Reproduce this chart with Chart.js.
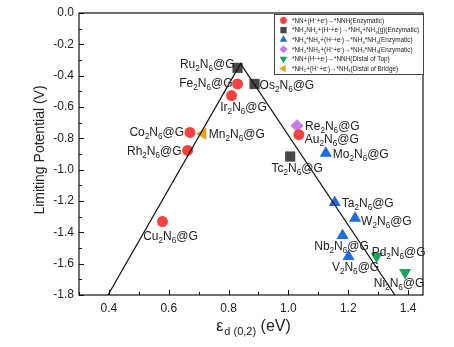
<!DOCTYPE html>
<html>
<head>
<meta charset="utf-8">
<script src="https://cdn.jsdelivr.net/npm/chart.js@4.4.1/dist/chart.umd.min.js"></script>
<style>
html,body{margin:0;padding:0;background:#fff;}
#wrap{width:454px;height:347px;position:relative;}
</style>
</head>
<body>
<div id="wrap"><canvas id="c" width="454" height="347"></canvas></div>
<script>
// ---------------- DATA ----------------
const xTicks = [0.4, 0.6, 0.8, 1.0, 1.2, 1.4];
const xMinor = [0.3, 0.5, 0.7, 0.9, 1.1, 1.3];
const yTicks = [0.0, -0.2, -0.4, -0.6, -0.8, -1.0, -1.2, -1.4, -1.6, -1.8];
const yMinor = [-0.1, -0.3, -0.5, -0.7, -0.9, -1.1, -1.3, -1.5, -1.7];

// *NN -> *NNH (Enzymatic)  red circles
const nnhEnzNames = ['Fe_{2}N_{6}@G','Ir_{2}N_{6}@G','Co_{2}N_{6}@G','Rh_{2}N_{6}@G','Cu_{2}N_{6}@G','Au_{2}N_{6}@G'];
const nnhEnzX = [0.830, 0.810, 0.671, 0.663, 0.579, 1.035];
const nnhEnzY = [-0.453, -0.527, -0.762, -0.877, -1.331, -0.777];

// *NH2NH2 -> *NH3+NH3(g) (Enzymatic)  dark squares
const nh2nh2Names = ['Ru_{2}N_{6}@G','Os_{2}N_{6}@G','Tc_{2}N_{6}@G'];
const nh2nh2X = [0.830, 0.887, 1.006];
const nh2nh2Y = [-0.350, -0.453, -0.916];

// *NH3*NH2 -> *NH3*NH3 (Enzymatic)  blue triangles
const nh3nh2Names = ['Mo_{2}N_{6}@G','Ta_{2}N_{6}@G','W_{2}N_{6}@G','Nb_{2}N_{6}@G','V_{2}N_{6}@G'];
const nh3nh2X = [1.125, 1.155, 1.223, 1.181, 1.201];
const nh3nh2Y = [-0.895, -1.210, -1.310, -1.420, -1.555];

// *NH2*NH2 -> *NH2*NH3 (Enzymatic)  purple diamond
const nh2nh2bNames = ['Re_{2}N_{6}@G'];
const nh2nh2bX = [1.029];
const nh2nh2bY = [-0.719];

// *NN -> *NNH (Distal of Top)  green down triangles
const nnhTopNames = ['Pd_{2}N_{6}@G','Ni_{2}N_{6}@G'];
const nnhTopX = [1.295, 1.390];
const nnhTopY = [-1.553, -1.657];

// *NH2 -> *NH3 (Distal of Bridge)  orange left triangle
const nh2BridgeNames = ['Mn_{2}N_{6}@G'];
const nh2BridgeX = [0.714];
const nh2BridgeY = [-0.770];

// volcano lines
const volcanoX = [0.397, 0.840, 1.356];
const volcanoY = [-1.800, -0.323, -1.800];

const legendLabels = [
  '*NN+(H^{+}+e^{-})\u2192*NNH(Enzymatic)',
  '*NH_{2}NH_{2}+(H^{+}+e^{-})\u2192*NH_{3}+NH_{3}(g)(Enzymatic)',
  '*NH_{3}*NH_{2}+(H^{+}+e^{-})\u2192*NH_{3}*NH_{3}(Enzymatic)',
  '*NH_{2}*NH_{2}+(H^{+}+e^{-})\u2192*NH_{2}*NH_{3}(Enzymatic)',
  '*NN+(H^{+}+e^{-})\u2192*NNH(Distal of Top)',
  '*NH_{2}+(H^{+}+e^{-})\u2192*NH_{3}(Distal of Bridge)'
];

// ---------------- STYLE ----------------
const FONT = '"Liberation Sans", Arial, sans-serif';
const labelPos = {
  'Ru_{2}N_{6}@G': [-3, -4, 'right'],
  'Fe_{2}N_{6}@G': [-5, -1, 'right'],
  'Os_{2}N_{6}@G': [5, 1, 'left'],
  'Ir_{2}N_{6}@G': [12, 11, 'center'],
  'Co_{2}N_{6}@G': [-6, -1, 'right'],
  'Mn_{2}N_{6}@G': [6, 0, 'left'],
  'Rh_{2}N_{6}@G': [-6, 0, 'right'],
  'Cu_{2}N_{6}@G': [8, 14, 'center'],
  'Re_{2}N_{6}@G': [8, 0, 'left'],
  'Au_{2}N_{6}@G': [6, 4, 'left'],
  'Tc_{2}N_{6}@G': [7, 11, 'center'],
  'Mo_{2}N_{6}@G': [7, 0, 'left'],
  'Ta_{2}N_{6}@G': [7, 0, 'left'],
  'W_{2}N_{6}@G': [6, 2, 'left'],
  'Nb_{2}N_{6}@G': [-1, 10, 'center'],
  'V_{2}N_{6}@G': [7, 10, 'center'],
  'Pd_{2}N_{6}@G': [-5, -5, 'left'],
  'Ni_{2}N_{6}@G': [-6, 10, 'center']
};

function pts(xs, ys){ return xs.map((x,i)=>({x:x, y:ys[i]})); }

const series = [
  {names:nnhEnzNames, data:pts(nnhEnzX,nnhEnzY), color:'#F7403F', style:'circle', r:5.5, rot:0},
  {names:nh2nh2Names, data:pts(nh2nh2X,nh2nh2Y), color:'#474747', style:'rect', r:7.2, rot:0},
  {names:nh3nh2Names, data:pts(nh3nh2X,nh3nh2Y), color:'#1F68E6', style:'triangle', r:7, rot:0},
  {names:nh2nh2bNames, data:pts(nh2nh2bX,nh2nh2bY), color:'#C97AE8', style:'rectRot', r:6.5, rot:0},
  {names:nnhTopNames, data:pts(nnhTopX,nnhTopY), color:'#19A65C', style:'triangle', r:7, rot:180},
  {names:nh2BridgeNames, data:pts(nh2BridgeX,nh2BridgeY), color:'#E8A114', style:'triangle', r:7, rot:270}
];

// ---------------- RICH TEXT ----------------
function parseRich(s){
  const segs=[]; let i=0; let buf='';
  while(i<s.length){
    if((s[i]==='_'||s[i]==='^') && s[i+1]==='{'){
      if(buf){segs.push({t:buf,k:'n'});buf='';}
      const end=s.indexOf('}',i);
      segs.push({t:s.slice(i+2,end),k:s[i]==='_'?'sub':'sup'});
      i=end+1;
    } else { buf+=s[i]; i++; }
  }
  if(buf) segs.push({t:buf,k:'n'});
  return segs;
}
function richWidth(ctx, segs, size){
  let w=0;
  segs.forEach(sg=>{ ctx.font=(sg.k==='n'?size:size*0.68)+'px '+FONT; w+=ctx.measureText(sg.t).width; });
  return w;
}
function drawRich(ctx, s, x, y, size, align, color){
  const segs=parseRich(s);
  const w=richWidth(ctx,segs,size);
  let cx = align==='left'?x:(align==='right'?x-w:x-w/2);
  ctx.save();
  ctx.fillStyle=color||'#222';
  ctx.textBaseline='alphabetic';
  ctx.textAlign='left';
  const base = y + size*0.36;
  segs.forEach(sg=>{
    let fs=size, dy=0;
    if(sg.k==='sub'){fs=size*0.68; dy=size*0.25;}
    if(sg.k==='sup'){fs=size*0.68; dy=-size*0.38;}
    ctx.font=fs+'px '+FONT;
    ctx.fillText(sg.t,cx,base+dy);
    cx+=ctx.measureText(sg.t).width;
  });
  ctx.restore();
}

function marker(ctx, style, x, y, r, rot, color){
  ctx.save();
  ctx.fillStyle=color;
  ctx.translate(x,y);
  ctx.rotate(rot*Math.PI/180);
  ctx.beginPath();
  if(style==='circle'){ ctx.arc(0,0,r,0,Math.PI*2); }
  else if(style==='rect'){ const s=r*Math.SQRT1_2; ctx.rect(-s,-s,2*s,2*s); }
  else if(style==='rectRot'){ ctx.moveTo(0,-r); ctx.lineTo(r,0); ctx.lineTo(0,r); ctx.lineTo(-r,0); ctx.closePath(); }
  else if(style==='triangle'){ for(let k=0;k<3;k++){const a=k*2*Math.PI/3; const px=Math.sin(a)*r, py=-Math.cos(a)*r; if(k===0)ctx.moveTo(px,py); else ctx.lineTo(px,py);} ctx.closePath(); }
  ctx.fill();
  ctx.restore();
}

const decor = {
  id:'decor',
  afterDatasetsDraw(chart){
    const ctx=chart.ctx, ca=chart.chartArea, xs=chart.scales.x, ys=chart.scales.y;
    ctx.save();
    // frame
    ctx.strokeStyle='#111'; ctx.lineWidth=1.2;
    ctx.strokeRect(ca.left, ca.top, ca.right-ca.left, ca.bottom-ca.top);
    // ticks (inward)
    ctx.lineWidth=1;
    ctx.beginPath();
    xTicks.forEach(v=>{const p=Math.round(xs.getPixelForValue(v))+0.5; ctx.moveTo(p,ca.bottom); ctx.lineTo(p,ca.bottom-5);});
    xMinor.forEach(v=>{const p=Math.round(xs.getPixelForValue(v))+0.5; ctx.moveTo(p,ca.bottom); ctx.lineTo(p,ca.bottom-3);});
    yTicks.forEach(v=>{const p=Math.round(ys.getPixelForValue(v))+0.5; ctx.moveTo(ca.left,p); ctx.lineTo(ca.left+5,p);});
    yMinor.forEach(v=>{const p=Math.round(ys.getPixelForValue(v))+0.5; ctx.moveTo(ca.left,p); ctx.lineTo(ca.left+3,p);});
    ctx.stroke();
    // point labels
    series.forEach(s=>{
      s.data.forEach((d,i)=>{
        const name=s.names[i]; const lp=labelPos[name]||[6,0,'left'];
        const px=xs.getPixelForValue(d.x), py=ys.getPixelForValue(d.y);
        drawRich(ctx,name,px+lp[0],py+lp[1],12,lp[2],'#222');
      });
    });
    // axis titles
    ctx.save();
    ctx.translate(40,150);
    ctx.rotate(-Math.PI/2);
    ctx.font='14px '+FONT; ctx.fillStyle='#222'; ctx.textAlign='center'; ctx.textBaseline='middle';
    ctx.fillText('Limiting Potential (V)',0,0);
    ctx.restore();
    // x title: ε_d (0,2) (eV)
    ctx.fillStyle='#222'; ctx.textBaseline='alphabetic'; ctx.textAlign='left';
    ctx.font='16px '+FONT; const wE=ctx.measureText('\u03b5').width; const wEV=ctx.measureText(' (eV)').width;
    ctx.font='11px '+FONT; const wS=ctx.measureText('d (0,2)').width;
    let tx=(ca.left+ca.right)/2 - (wE+wS+wEV)/2 + 2;
    const tb=331;
    ctx.font='16px '+FONT; ctx.fillText('\u03b5',tx,tb); tx+=wE;
    ctx.font='11px '+FONT; ctx.fillText('d (0,2)',tx+1,tb+4); tx+=wS+1;
    ctx.font='16px '+FONT; ctx.fillText(' (eV)',tx,tb);
    // legend
    const lx=274, ly=14, lw=150, lh=61;
    ctx.fillStyle='#fff'; ctx.fillRect(lx,ly,lw,lh);
    ctx.strokeStyle='#444'; ctx.lineWidth=1; ctx.strokeRect(lx+0.5,ly+0.5,lw-1,lh-1);
    legendLabels.forEach((lab,i)=>{
      const yy=ly+6.5+i*9.6;
      const s=series[i];
      marker(ctx,s.style,lx+9.5,yy,s.r*0.62,s.rot,s.color);
      drawRich(ctx,lab,lx+18,yy,6.4,'left','#222');
    });
    ctx.restore();
  }
};

const datasets = [{
  type:'line',
  data:pts(volcanoX,volcanoY),
  borderColor:'#111', borderWidth:1.2, pointRadius:0, fill:false, tension:0, order:0
}].concat(series.map(s=>({
  type:'scatter',
  data:s.data,
  backgroundColor:s.color, borderColor:s.color, borderWidth:0,
  pointStyle:s.style, pointRadius:s.r, pointRotation:s.rot, pointHoverRadius:s.r,
  order:1
})));

new Chart(document.getElementById('c'), {
  type:'scatter',
  data:{datasets:datasets},
  options:{
    responsive:false, animation:false,
    layout:{padding:{left:0,right:31,top:13,bottom:0}},
    plugins:{legend:{display:false}, tooltip:{enabled:false}},
    scales:{
      x:{type:'linear', min:0.3, max:1.45,
        grid:{display:false, drawTicks:false},
        border:{display:false},
        afterBuildTicks:(sc)=>{sc.ticks=xTicks.map(v=>({value:v}));},
        afterFit:(sc)=>{sc.height=52;},
        ticks:{padding:6, color:'#222', font:{family:FONT,size:12}, maxRotation:0, autoSkip:false,
          callback:(v)=>Number(v).toFixed(1)}
      },
      y:{type:'linear', min:-1.8, max:0,
        grid:{display:false, drawTicks:false},
        border:{display:false},
        afterBuildTicks:(sc)=>{sc.ticks=yTicks.map(v=>({value:v}));},
        afterFit:(sc)=>{sc.width=79;},
        ticks:{padding:5, color:'#222', font:{family:FONT,size:12}, autoSkip:false,
          callback:(v)=>Number(v).toFixed(1)}
      }
    }
  },
  plugins:[decor]
});
</script>
</body>
</html>
